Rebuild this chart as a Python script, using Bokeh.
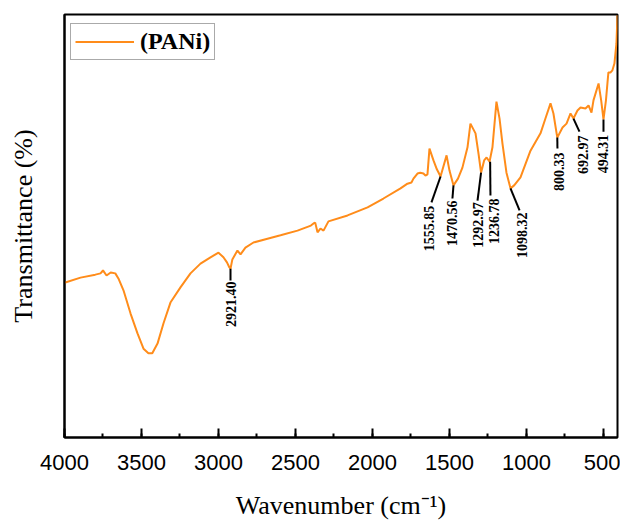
import math
from bokeh.plotting import figure
from bokeh.models import Range1d, SingleIntervalTicker, FixedTicker, Legend, LegendItem, ColumnDataSource
from bokeh.core.properties import value
from bokeh.embed import file_html
from bokeh.resources import INLINE

# FTIR spectrum of PANi (wavenumber cm^-1, transmittance arbitrary %)
wavenumber = [4000, 3896, 3800, 3766, 3750, 3727, 3700, 3670, 3650, 3617, 3571, 3526, 3487,
              3455, 3430, 3396, 3357, 3312, 3247, 3182, 3117, 3052, 3000, 2968, 2945, 2929,
              2922, 2910, 2877, 2857, 2825, 2773, 2682, 2597, 2487, 2400, 2383, 2372, 2357,
              2338, 2318, 2286, 2162, 2032, 1929, 1818, 1773, 1747, 1734, 1708, 1690, 1669,
              1656, 1643, 1630, 1604, 1582, 1558, 1519, 1500, 1474, 1445, 1416, 1383, 1364,
              1331, 1310, 1295, 1275, 1259, 1240, 1221, 1195, 1175, 1156, 1130, 1104, 1080,
              1039, 974, 909, 877, 844, 825, 800, 766, 740, 714, 695, 669, 649, 617, 597,
              578, 565, 532, 515, 500, 484, 474, 468, 455, 442, 429, 416, 409]
transmittance = [36.6, 37.8, 38.5, 38.8, 39.5, 38.3, 39.0, 38.8, 37.6, 34.8, 29.3, 24.6, 21.0,
                 19.9, 19.9, 22.2, 27.0, 31.9, 35.5, 38.8, 41.1, 42.6, 43.7, 42.6, 41.4, 40.2,
                 39.9, 42.1, 44.2, 43.3, 44.9, 46.1, 47.0, 47.8, 48.9, 50.1, 50.6, 50.8, 48.5,
                 49.4, 48.9, 51.1, 52.5, 54.4, 56.5, 58.9, 60.0, 60.3, 61.2, 62.4, 62.6, 62.4,
                 61.9, 62.2, 68.3, 65.5, 63.4, 61.7, 66.7, 63.1, 59.6, 61.2, 63.8, 68.6, 74.2,
                 71.9, 66.7, 62.6, 65.5, 66.2, 65.2, 68.6, 79.4, 75.4, 69.5, 62.6, 58.9, 59.6,
                 61.5, 67.8, 71.9, 75.4, 79.0, 76.6, 70.9, 73.3, 74.2, 76.6, 75.4, 77.3, 78.0,
                 77.8, 78.5, 76.8, 79.7, 83.7, 79.7, 75.2, 79.7, 83.9, 86.3, 86.3, 86.8, 88.4,
                 93.1, 99.8]

# peak annotations
peak_labels = ["2921.40", "1555.85", "1470.56", "1292.97", "1236.78", "1098.32", "800.33", "692.97", "494.31"]
peak_wn = [2922, 1558, 1474, 1295, 1236, 1104, 800, 695, 500]
peak_y = [39.9, 61.7, 59.6, 62.6, 65.2, 58.9, 70.9, 75.4, 75.2]
leader_end_wn = [2922, 1617, 1481, 1318, 1234, 1045, 799, 656, 500]
leader_end_y = [37.1, 55.6, 56.5, 56.0, 57.2, 53.7, 68.3, 72.3, 72.3]
label_wn = [2922, 1636, 1481, 1318, 1214, 1026, 792, 636, 500]
label_y = [36.9, 54.8, 56.0, 55.6, 56.5, 53.2, 67.4, 71.4, 71.6]

x_ticks_interval = 500

p = figure(width=620, height=522, output_backend="svg", toolbar_location=None,
           x_range=Range1d(4000, 409), y_range=Range1d(0, 100),
           min_border_left=64, min_border_right=3, min_border_top=14, min_border_bottom=85)
p.xgrid.visible = False
p.ygrid.visible = False
p.outline_line_color = "black"
p.outline_line_width = 2
p.background_fill_color = "white"
p.border_fill_color = "white"

line = p.line(wavenumber, transmittance, line_color="#ff8c1a", line_width=2)

# leaders
p.segment(x0=peak_wn, y0=peak_y, x1=leader_end_wn, y1=leader_end_y, line_color="black", line_width=2)
src = ColumnDataSource(dict(x=label_wn, y=label_y, t=peak_labels))
p.text(x="x", y="y", text="t", source=src, angle=math.pi / 2,
       text_align="right", text_baseline="middle",
       text_font=value("Liberation Serif"), text_font_style="bold",
       text_font_size="14px", text_color="black")

# x axis
xa = p.xaxis[0]
xa.ticker = SingleIntervalTicker(interval=x_ticks_interval, num_minor_ticks=2)
xa.major_tick_in = 9
xa.major_tick_out = 0
xa.minor_tick_in = 4
xa.minor_tick_out = 0
xa.major_tick_line_width = 2
xa.minor_tick_line_width = 2
xa.axis_line_width = 2
xa.major_label_text_font = "Liberation Sans"
xa.major_label_text_font_size = "22px"
xa.major_label_text_color = "black"
xa.major_label_standoff = 17
xa.axis_label = "Wavenumber (cm\u207b\u00b9)"
xa.axis_label_text_font = "Liberation Serif"
xa.axis_label_text_font_size = "26px"
xa.axis_label_text_font_style = "normal"
xa.axis_label_text_color = "black"
xa.axis_label_standoff = 18

# y axis
ya = p.yaxis[0]
ya.ticker = FixedTicker(ticks=[])
ya.major_label_text_font_size = "0px"
ya.major_tick_in = 0
ya.major_tick_out = 0
ya.minor_tick_in = 0
ya.minor_tick_out = 0
ya.axis_line_width = 2
ya.axis_label = "Transmittance (%)"
ya.axis_label_text_font = "Liberation Serif"
ya.axis_label_text_font_size = "26px"
ya.axis_label_text_font_style = "normal"
ya.axis_label_text_color = "black"
ya.axis_label_standoff = 27

legend = Legend(items=[LegendItem(label="(PANi)", renderers=[line])],
                location=(6, 377))
legend.label_text_font = "Liberation Serif"
legend.label_text_font_style = "bold"
legend.label_text_font_size = "24px"
legend.label_text_color = "black"
legend.glyph_width = 59
legend.glyph_height = 27
legend.label_height = 27
legend.label_standoff = 6
legend.padding = 4
legend.spacing = 0
legend.margin = 0
legend.border_line_color = "#555555"
legend.border_line_width = 1
p.add_layout(legend)

open("out.html", "w").write(file_html(p, INLINE))
